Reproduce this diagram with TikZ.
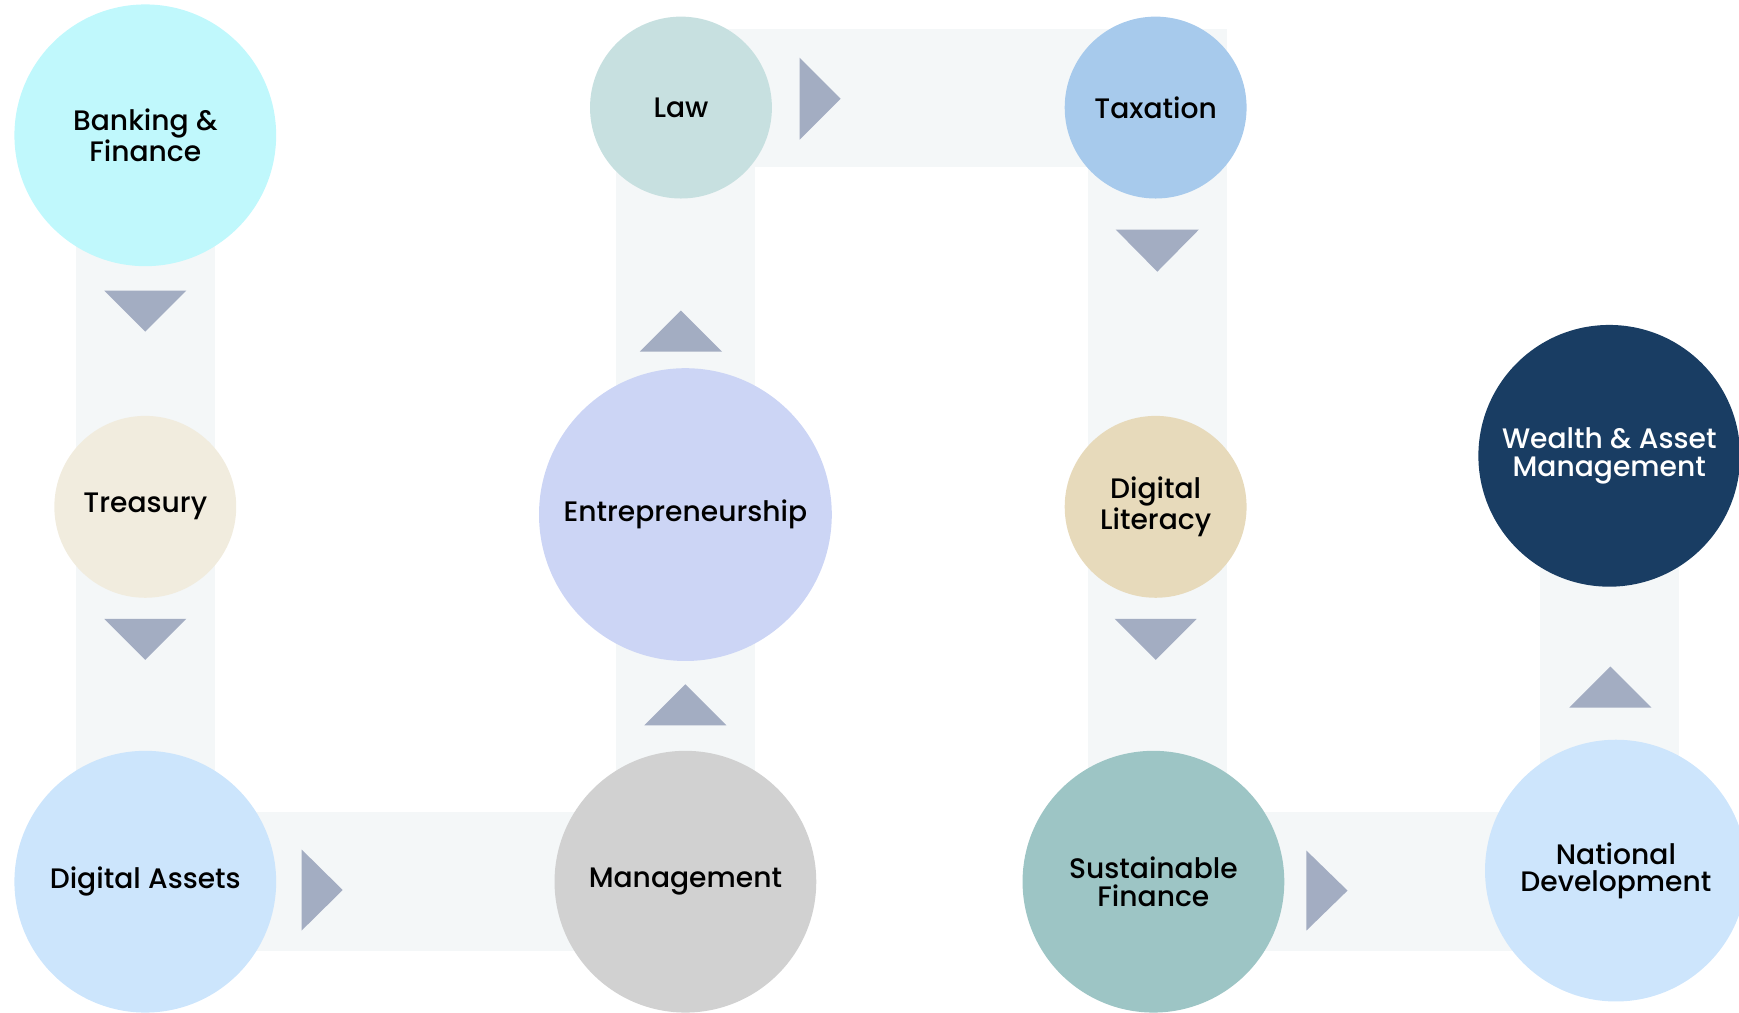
\documentclass[tikz,border=0pt]{standalone}
\usepackage{fontspec}
\setmainfont{Poppins}[UprightFont=* Medium]
\definecolor{bandc}{HTML}{F4F7F8}
\definecolor{arrc}{HTML}{A3ADC2}
\definecolor{cBank}{HTML}{C0F8FC}
\definecolor{cTrea}{HTML}{F1ECDE}
\definecolor{cDig}{HTML}{CCE5FC}
\definecolor{cMan}{HTML}{D1D1D1}
\definecolor{cEnt}{HTML}{CCD5F5}
\definecolor{cLaw}{HTML}{C7E0E0}
\definecolor{cTax}{HTML}{A7CAEC}
\definecolor{cLit}{HTML}{E7DABB}
\definecolor{cSus}{HTML}{9DC5C5}
\definecolor{cNat}{HTML}{CDE5FC}
\definecolor{cWea}{HTML}{193D63}
\begin{document}
\begin{tikzpicture}[x=0.5pt,y=-0.5pt,
  band/.style={draw=bandc,line width=62.5pt,line join=miter},
  arr/.style={fill=arrc},
  ball/.style={circle,inner sep=0pt,outer sep=0pt,align=center,
    font=\fontsize{12.7}{12.3}\selectfont,text=black},
  big/.style={ball,minimum size=118pt},
  small/.style={ball,minimum size=82pt},
  huge/.style={ball,minimum size=132pt}]
\useasboundingbox (0,0) rectangle (1568,913);
\coordinate (pBank) at (131,122);
\coordinate (pTrea) at (131,457);
\coordinate (pDig) at (131,795);
\coordinate (pMan) at (618,795);
\coordinate (pEnt) at (618,464);
\coordinate (pLaw) at (614,97);
\coordinate (pTax) at (1042,97);
\coordinate (pLit) at (1042,457);
\coordinate (pSus) at (1040,795);
\coordinate (pNat) at (1457,785);
\coordinate (pWea) at (1451,411);
\coordinate (tl) at (618,88.5);
\coordinate (tr) at (1043.5,88.5);
% bands
\draw[band] (pBank) -- (pDig) -- (pMan);
\draw[band] (pMan) -- (tl);
\draw[band] (tl) -- (tr) -- (tr |- pSus);
\draw[band] (pSus) -- (pWea |- pSus) -- (pWea);
% circles
\node[big,fill=cBank] (bank) at (pBank) {Banking \&\\Finance};
\node[small,fill=cTrea] (trea) at (pTrea) {Treasury};
\node[big,fill=cDig] (dig) at (pDig) {Digital Assets};
\node[big,fill=cMan] (man) at (pMan) {Management};
\node[huge,fill=cEnt] (ent) at (pEnt) {Entrepreneurship};
\node[small,fill=cLaw] (law) at (pLaw) {Law};
\node[small,fill=cTax] (tax) at (pTax) {Taxation};
\node[small,fill=cLit] (lit) at (pLit) {Digital\\Literacy};
\node[big,fill=cSus] (sus) at (pSus) {Sustainable\\Finance};
\node[big,fill=cNat] (nat) at (pNat) {National\\Development};
\node[big,fill=cWea,text=white] (wea) at (pWea) {Wealth \& Asset\\Management};
% arrows
\fill[arr] (94,262) -- (168,262) -- (131,299) -- cycle;
\fill[arr] (94,558) -- (168,558) -- (131,595) -- cycle;
\fill[arr] (272,766) -- (272,839) -- (309,802.5) -- cycle;
\fill[arr] (581,654) -- (655,654) -- (618,617) -- cycle;
\fill[arr] (577,317) -- (651,317) -- (614,280) -- cycle;
\fill[arr] (721,52) -- (721,126) -- (758,89) -- cycle;
\fill[arr] (1006,207) -- (1081,207) -- (1043.5,245) -- cycle;
\fill[arr] (1005,558) -- (1079,558) -- (1042,595) -- cycle;
\fill[arr] (1178,767) -- (1178,839) -- (1215,803) -- cycle;
\fill[arr] (1415,638) -- (1489,638) -- (1452,601) -- cycle;
\end{tikzpicture}
\end{document}
